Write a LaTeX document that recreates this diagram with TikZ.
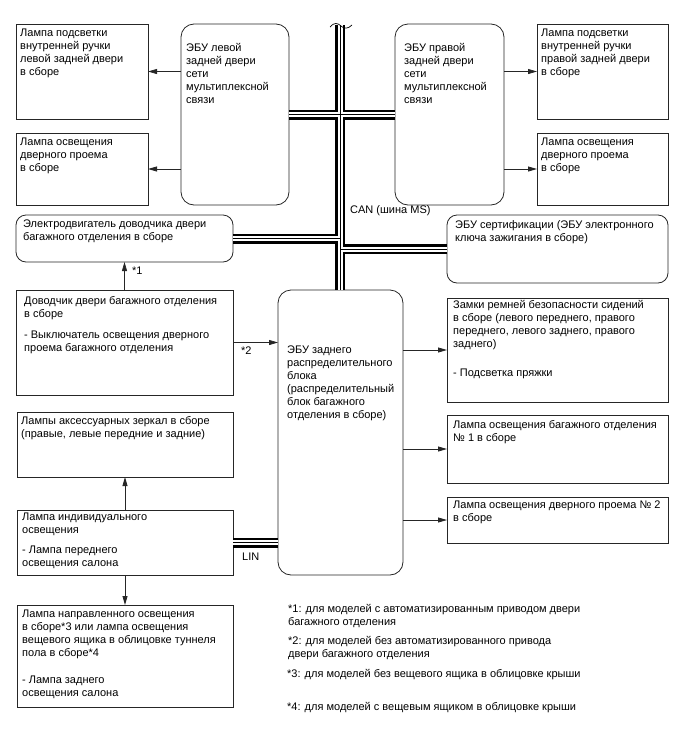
\documentclass[tikz,border=0pt]{standalone}
\usepackage{fontspec}
\setmainfont{Liberation Sans}
\usetikzlibrary{arrows.meta}
\begin{document}
\begin{tikzpicture}[x=1pt,y=-1pt,
  box/.style={draw=black!85, line width=0.8pt, anchor=north west, inner sep=0pt, outer sep=0pt},
  rbox/.style={box, rounded corners=13pt},
  sbox/.style={box, rounded corners=10pt},
  txt/.style={anchor=north west, inner sep=0pt, align=left, font=\fontsize{11}{13}\selectfont},
  arr/.style={draw=black!85, line width=0.8pt, -{Triangle[length=9pt,width=5pt]}}]
\useasboundingbox (0,0) rectangle (688,755);

% boxes
\node[box,  minimum width=132, minimum height=95] (A) at (16,24) {};
\node[box,  minimum width=132, minimum height=72] (B) at (16,133) {};
\node[rbox, minimum width=108, minimum height=181] (LECU) at (181,24) {};
\node[rbox, minimum width=109, minimum height=181] (RECU) at (395,24) {};
\node[box,  minimum width=131, minimum height=95] (C) at (537,24) {};
\node[box,  minimum width=131, minimum height=72] (D) at (537,133) {};
\node[sbox, minimum width=217, minimum height=47] (Motor) at (16,215) {};
\node[sbox, minimum width=221, minimum height=68] (Cert) at (447,215) {};
\node[box,  minimum width=217, minimum height=105] (Latch) at (16,290) {};
\node[rbox, minimum width=125, minimum height=285] (Rear) at (278,290) {};
\node[box,  minimum width=221, minimum height=104] (Belt) at (447,298) {};
\node[box,  minimum width=221, minimum height=68] (Lug) at (447,415) {};
\node[box,  minimum width=221, minimum height=46] (Door) at (447,497) {};
\node[box,  minimum width=216, minimum height=65] (Mirror) at (17,412) {};
\node[box,  minimum width=216, minimum height=65] (Indiv) at (17,510) {};
\node[box,  minimum width=216, minimum height=102] (Dir) at (17,605) {};

% bus
\coordinate (bustop) at (340,25);
\def\buspath{(bustop) -- (bustop |- Rear.north)
  (LECU.east) -- (RECU.west)
  (Motor.east) -- (Motor.east -| bustop)
  (Cert.west) -- (Cert.west -| bustop)
  (Indiv.east) -- (Indiv.east -| Rear.west)}
\draw[line width=10pt] \buspath;
\draw[white, line width=5pt] \buspath;
\draw[line width=1pt] \buspath;
\draw[line width=0.7pt] (330,27) .. controls (334,22) and (338,23) .. (341,26)
   .. controls (344,29) and (348,29) .. (352,25);

% arrows
\draw[arr] (LECU.west |- A.east) -- (A.east);
\draw[arr] (LECU.west |- B.east) -- (B.east);
\draw[arr] (RECU.east |- C.west) -- (C.west);
\draw[arr] (RECU.east |- D.west) -- (D.west);
\draw[arr] (Latch.north) -- (Motor.south);
\draw[arr] (Latch.east) -- (Latch.east -| Rear.west);
\draw[arr] (Rear.east |- Belt.west) -- (Belt.west);
\draw[arr] (Rear.east |- Lug.west) -- (Lug.west);
\draw[arr] (Rear.east |- Door.west) -- (Door.west);
\draw[arr] (Indiv.north) -- (Mirror.south);
\draw[arr] (Indiv.south) -- (Dir.north);

% texts
\node[txt] (tA) at (20,29) {Лампа подсветки\\внутренней ручки\\левой задней двери\\в сборе};
\node[txt] (tB) at (20,138) {Лампа освещения\\дверного проема\\в сборе};
\node[txt] (tL) at (186,43) {ЭБУ левой\\задней двери\\сети\\мультиплексной\\связи};
\node[txt] (tR) at (404,43) {ЭБУ правой\\задней двери\\сети\\мультиплексной\\связи};
\node[txt] (tC) at (541,29) {Лампа подсветки\\внутренней ручки\\правой задней двери\\в сборе};
\node[txt] (tD) at (541,138) {Лампа освещения\\дверного проема\\в сборе};
\node[txt] (can) at (350,205) {CAN (шина MS)};
\node[txt] (tM) at (23,220) {Электродвигатель доводчика двери\\багажного отделения в сборе};
\node[txt] (tCe) at (455,220) {ЭБУ сертификации (ЭБУ электронного\\ключа зажигания в сборе)};
\node[txt] (n1) at (132,267) {*1};
\node[txt] (tLa) at (24,296) {Доводчик двери багажного отделения\\в сборе\\[8pt]- Выключатель освещения дверного\\проема багажного отделения};
\node[txt] (n2) at (241,347) {*2};
\node[txt] (tRe) at (287,346) {ЭБУ заднего\\распределительного\\блока\\(распределительный\\блок багажного\\отделения в сборе)};
\node[txt] (tBe) at (453,300) {Замки ремней безопасности сидений\\в сборе (левого переднего, правого\\переднего, левого заднего, правого\\заднего)\\[16pt]- Подсветка пряжки};
\node[txt] (tLu) at (453,420) {Лампа освещения багажного отделения\\№ 1 в сборе};
\node[txt] (tDo) at (453,501) {Лампа освещения дверного проема № 2\\в сборе};
\node[txt] (tMi) at (21,416) {Лампы аксессуарных зеркал в сборе\\(правые, левые передние и задние)};
\node[txt] (tIn) at (22,513) {Лампа индивидуального\\освещения\\[7pt]- Лампа переднего\\освещения салона};
\node[txt] (tDi) at (22,610) {Лампа направленного освещения\\в сборе*3 или лампа освещения\\вещевого ящика в облицовке туннеля\\пола в сборе*4\\[14pt]- Лампа заднего\\освещения салона};
\node[txt] (lin) at (242,553) {LIN};
\node[txt] (f1) at (288,604) {*1: для моделей с автоматизированным приводом двери\\багажного отделения};
\node[txt] (f2) at (288,636) {*2: для моделей без автоматизированного привода\\двери багажного отделения};
\node[txt] (f3) at (287,669) {*3: для моделей без вещевого ящика в облицовке крыши};
\node[txt] (f4) at (287,702) {*4: для моделей с вещевым ящиком в облицовке крыши};
\end{tikzpicture}
\end{document}
